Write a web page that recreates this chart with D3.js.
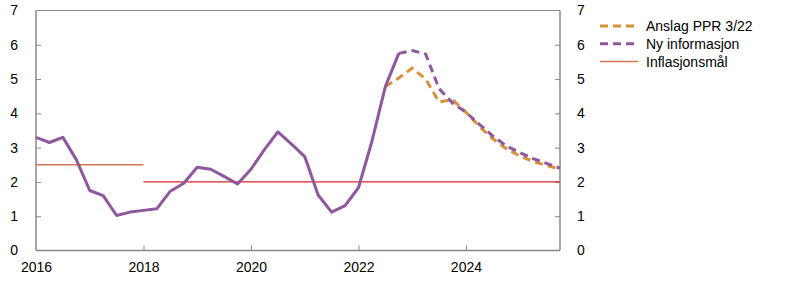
<!DOCTYPE html>
<html>
<head>
<meta charset="utf-8">
<script src="https://cdn.jsdelivr.net/npm/d3@7"></script>
<style>
  body { margin: 0; background: #fff; }
  svg text { font-family: "Liberation Sans", Arial, sans-serif; font-size: 14px; fill: #000; }
</style>
</head>
<body>
<svg width="797" height="285"></svg>
<script>
// quarterly series, first value's quarter given as [year, quarter]
const historyStart = [2016, 1];
const historyValues = [3.30, 3.15, 3.30, 2.65, 1.75, 1.60, 1.02, 1.12, 1.17, 1.22, 1.73, 1.96,
  2.43, 2.37, 2.16, 1.94, 2.37, 2.94, 3.46, 3.11, 2.74, 1.62, 1.12, 1.31, 1.83, 3.18, 4.78, 5.75];

const newInfoStart = [2022, 4];
const newInfoValues = [5.75, 5.83, 5.73, 4.72, 4.30, 4.03, 3.68, 3.34, 3.05, 2.86, 2.68, 2.54, 2.40];

const pprStart = [2022, 3];
const pprValues = [4.78, 5.03, 5.32, 5.00, 4.33, 4.40, 4.03, 3.62, 3.26, 2.97, 2.76, 2.60, 2.48, 2.38];

// inflation target segments: [fromYear, toYear, level]
const targetOld = [2016, 2018, 2.5];
const targetNew = [2018, 2025.75, 2.0];

const xTicks = [2016, 2018, 2020, 2022, 2024];
const yTicks = [0, 1, 2, 3, 4, 5, 6, 7];

const legendItems = [
  { label: 'Anslag PPR 3/22', color: '#d8913a', dash: '8,5' },
  { label: 'Ny informasjon', color: '#8f579d', dash: '8,5' },
  { label: 'Inflasjonsmål', color: '#d6735b', dash: null }
];

const margin = { top: 10.5, right: 237, bottom: 34.5, left: 36 };
const width = 797 - margin.left - margin.right;
const height = 285 - margin.top - margin.bottom;

const toPoints = (start, values) => values.map((v, i) => ({
  t: start[0] + (start[1] - 1 + i) / 4,
  v
}));

const x = d3.scaleLinear().domain([2016, 2025.75]).range([0, width]);
const y = d3.scaleLinear().domain([0, 7]).range([height, 0]);

const svg = d3.select('svg')
  .append('g')
    .attr('transform', `translate(${margin.left},${margin.top})`);

const axisColor = '#888';

// frame top line
svg.append('line')
  .attr('x1', 0).attr('x2', width)
  .attr('y1', 0).attr('y2', 0)
  .attr('stroke', axisColor).attr('stroke-width', 1);

const leftAxis = svg.append('g')
  .call(d3.axisLeft(y).tickValues(yTicks).tickSize(-5).tickPadding(18).tickFormat(d3.format('d')));
const rightAxis = svg.append('g')
  .attr('transform', `translate(${width},0)`)
  .call(d3.axisRight(y).tickValues(yTicks).tickSize(-5).tickPadding(17).tickFormat(d3.format('d')));
const bottomAxis = svg.append('g')
  .attr('transform', `translate(0,${height})`)
  .call(d3.axisBottom(x).tickValues(xTicks).tickSize(-5).tickPadding(12).tickFormat(d3.format('d')));

[leftAxis, rightAxis, bottomAxis].forEach((a) => {
  a.select('.domain').attr('stroke', axisColor).attr('stroke-width', 1.5);
  a.selectAll('.tick line').attr('stroke', axisColor);
  a.selectAll('text').attr('fill', '#000').style('font-size', '14px');
});
leftAxis.selectAll('.tick line').filter(d => d === 0 || d === 7).remove();
rightAxis.selectAll('.tick line').filter(d => d === 0 || d === 7).remove();
bottomAxis.selectAll('.tick line').filter(d => d === 2016).remove();
// keep domain without outer ticks
leftAxis.select('.domain').attr('d', `M0,${height}V0`);
rightAxis.select('.domain').attr('d', `M0,${height}V0`);
bottomAxis.select('.domain').attr('d', `M0,0H${width}`);

// inflation target
svg.append('line')
  .attr('x1', x(targetOld[0])).attr('x2', x(targetOld[1]))
  .attr('y1', y(targetOld[2])).attr('y2', y(targetOld[2]))
  .attr('stroke', '#d6735b').attr('stroke-width', 1.5);
svg.append('line')
  .attr('x1', x(targetNew[0])).attr('x2', x(targetNew[1]))
  .attr('y1', y(targetNew[2])).attr('y2', y(targetNew[2]))
  .attr('stroke', '#d9262a').attr('stroke-width', 1.2);

const line = d3.line().x(d => x(d.t)).y(d => y(d.v));

svg.append('path')
  .datum(toPoints(pprStart, pprValues))
  .attr('d', line)
  .attr('fill', 'none')
  .attr('stroke', '#d8913a')
  .attr('stroke-width', 3)
  .attr('stroke-dasharray', '8,5');

svg.append('path')
  .datum(toPoints(newInfoStart, newInfoValues))
  .attr('d', line)
  .attr('fill', 'none')
  .attr('stroke', '#8f579d')
  .attr('stroke-width', 3)
  .attr('stroke-dasharray', '8,5');

svg.append('path')
  .datum(toPoints(historyStart, historyValues))
  .attr('d', line)
  .attr('fill', 'none')
  .attr('stroke', '#8f579d')
  .attr('stroke-width', 3)
  .attr('stroke-linejoin', 'round');

// legend
const legend = svg.append('g')
  .attr('transform', `translate(${width + 40},${26 - margin.top})`);

const item = legend.selectAll('g')
  .data(legendItems)
  .enter().append('g')
    .attr('transform', (d, i) => `translate(0,${i * 17.8})`);

item.append('line')
  .attr('x1', 0).attr('x2', 38)
  .attr('stroke', d => d.color)
  .attr('stroke-width', d => (d.dash ? 3 : 1.5))
  .attr('stroke-dasharray', d => d.dash);

item.append('text')
  .attr('x', 46)
  .attr('dy', '0.35em')
  .text(d => d.label);
</script>
</body>
</html>
